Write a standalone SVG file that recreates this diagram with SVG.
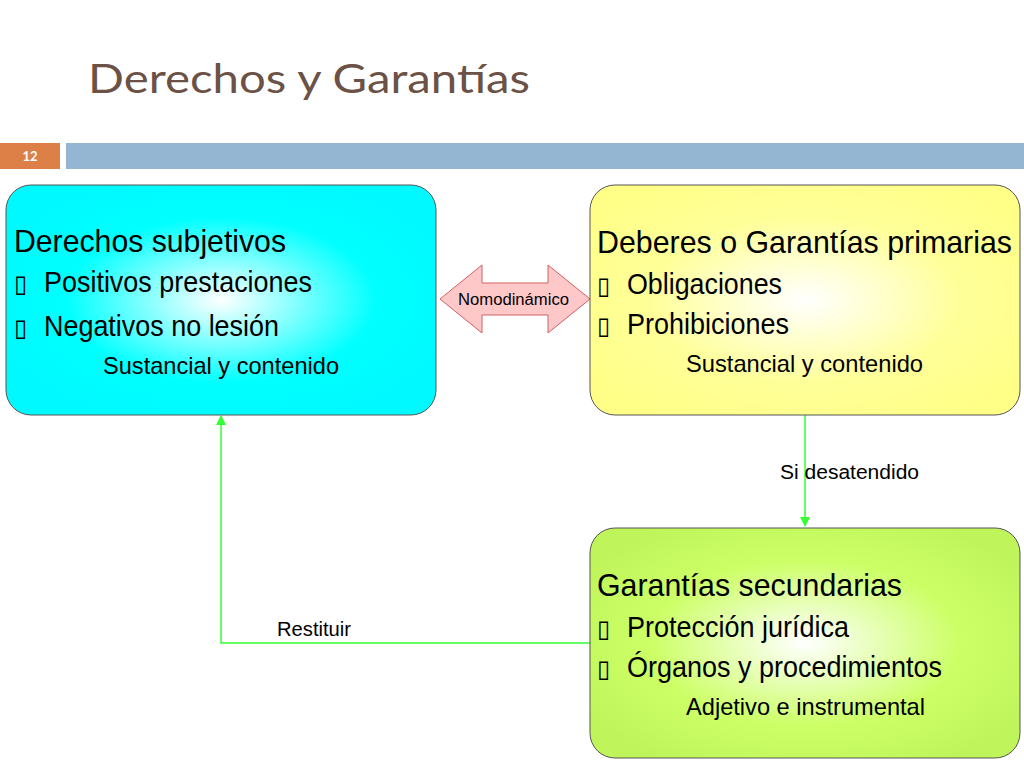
<svg xmlns="http://www.w3.org/2000/svg" width="1024" height="768" viewBox="0 0 1024 768">
<defs>
<radialGradient id="gc" cx="0.5" cy="0.5" r="0.6"><stop offset="0" stop-color="#ffffff"/><stop offset="0.6" stop-color="#00ffff"/><stop offset="1" stop-color="#00f8ff"/></radialGradient>
<radialGradient id="gy" cx="0.5" cy="0.5" r="0.6"><stop offset="0" stop-color="#ffffff"/><stop offset="0.6" stop-color="#ffff99"/><stop offset="1" stop-color="#ffff88"/></radialGradient>
<radialGradient id="gg" cx="0.5" cy="0.5" r="0.6"><stop offset="0" stop-color="#ffffff"/><stop offset="0.6" stop-color="#ccff66"/><stop offset="1" stop-color="#bff55a"/></radialGradient>
<marker id="ah" markerWidth="10" markerHeight="10" refX="9" refY="5" orient="auto" markerUnits="userSpaceOnUse"><path d="M0,0 L10,5 L0,10 Z" fill="#33ff33"/></marker>
</defs>
<style>
.t{font-family:"Liberation Sans Narrow","Liberation Sans",Arial,sans-serif;fill:#000}
.h{font-size:32px}.b{font-size:29px}.s{font-size:24px}.l{font-size:20px}
.box{stroke:#555;stroke-width:1}
.c{fill:none;stroke:#33ff33;stroke-width:1.5}
</style>
<rect width="1024" height="768" fill="#fff"/>
<text x="88" y="93" font-family="'Gill Sans MT','Lato','Open Sans',sans-serif" font-size="40" fill="#6b5146" textLength="442" lengthAdjust="spacingAndGlyphs">Derechos y Garantías</text>
<rect x="0" y="143" width="60" height="26" fill="#dd8047"/>
<text x="30" y="161" text-anchor="middle" font-family="Lato,sans-serif" font-size="13" font-weight="bold" fill="#fff">12</text>
<rect x="66" y="143" width="958" height="26" fill="#94b6d2"/>
<g id="connectors">
<path class="c" d="M805,414 L805,526" marker-end="url(#ah)"/>
<path class="c" d="M590,643 L221,643 L221,416" marker-end="url(#ah)"/>
<text class="t l" x="780" y="479" textLength="139" lengthAdjust="spacingAndGlyphs">Si  desatendido</text>
<text class="t l" x="277" y="636" textLength="74" lengthAdjust="spacingAndGlyphs">Restituir</text>
</g>
<g id="nomo">
<path d="M440,299 L482,265 L482,283 L548,283 L548,265 L590,299 L548,333 L548,315 L482,315 L482,333 Z" fill="#ffc8c8" stroke="#d06060" stroke-width="1"/>
<text class="t" x="458" y="305" font-size="16" textLength="111" lengthAdjust="spacingAndGlyphs">Nomodinámico</text>
</g>
<g id="derechos">
<rect class="box" x="6" y="185" width="430" height="230" rx="25" fill="url(#gc)"/>
<text class="t h" x="14" y="252" textLength="272" lengthAdjust="spacingAndGlyphs">Derechos subjetivos</text>
<text class="t s" x="14" y="292">▯</text><text class="t b" x="44" y="292" textLength="268" lengthAdjust="spacingAndGlyphs">Positivos prestaciones</text>
<text class="t s" x="14" y="336">▯</text><text class="t b" x="44" y="336" textLength="235" lengthAdjust="spacingAndGlyphs">Negativos no lesión</text>
<text class="t s" x="103" y="374" textLength="236" lengthAdjust="spacingAndGlyphs">Sustancial y contenido</text>
</g>
<g id="deberes">
<rect class="box" x="590" y="185" width="430" height="230" rx="25" fill="url(#gy)"/>
<text class="t h" x="597" y="253" textLength="415" lengthAdjust="spacingAndGlyphs">Deberes o Garantías primarias</text>
<text class="t s" x="597" y="294">▯</text><text class="t b" x="627" y="294" textLength="155" lengthAdjust="spacingAndGlyphs">Obligaciones</text>
<text class="t s" x="597" y="334">▯</text><text class="t b" x="627" y="334" textLength="162" lengthAdjust="spacingAndGlyphs">Prohibiciones</text>
<text class="t s" x="686" y="372" textLength="237" lengthAdjust="spacingAndGlyphs">Sustancial y contenido</text>
</g>
<g id="secundarias">
<rect class="box" x="590" y="528" width="430" height="230" rx="25" fill="url(#gg)"/>
<text class="t h" x="597" y="596" textLength="305" lengthAdjust="spacingAndGlyphs">Garantías secundarias</text>
<text class="t s" x="597" y="637">▯</text><text class="t b" x="627" y="637" textLength="222" lengthAdjust="spacingAndGlyphs">Protección jurídica</text>
<text class="t s" x="597" y="677">▯</text><text class="t b" x="627" y="677" textLength="315" lengthAdjust="spacingAndGlyphs">Órganos y procedimientos</text>
<text class="t s" x="686" y="715" textLength="239" lengthAdjust="spacingAndGlyphs">Adjetivo e instrumental</text>
</g>
</svg>
